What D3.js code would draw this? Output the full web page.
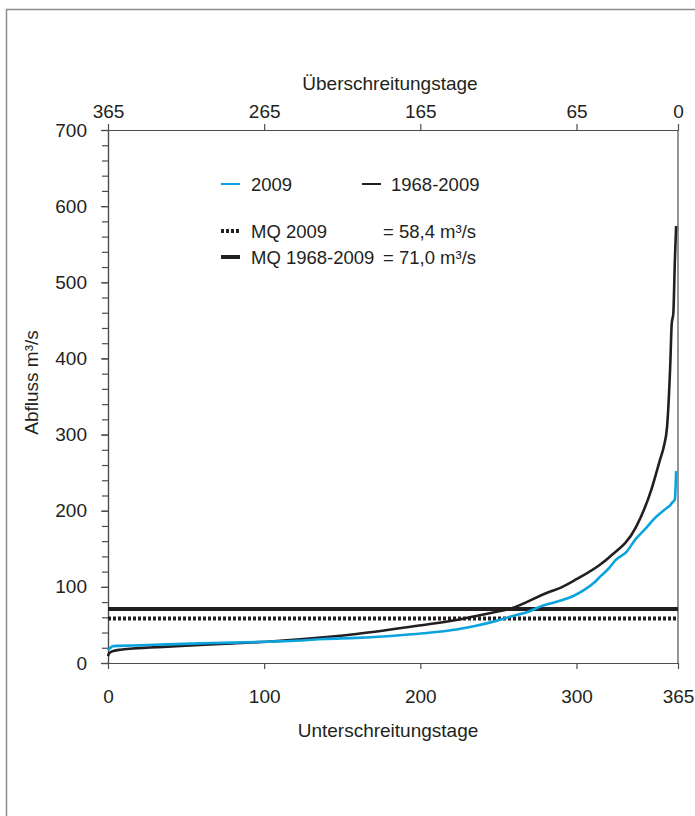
<!DOCTYPE html>
<html>
<head>
<meta charset="utf-8">
<script src="https://cdn.jsdelivr.net/npm/d3@7"></script>
<style>
  body { margin: 0; background: #fff; }
  svg text { font-family: "Liberation Sans", Arial, sans-serif; fill: #231f20; }
</style>
</head>
<body>
<svg id="chart" width="695" height="816"></svg>
<script>
// Unterschreitungstage (days) and discharge m³/s
const daysAll = [0, 0.5, 1.5, 4, 8, 16, 38, 59, 80, 102, 123, 159, 202, 223, 245, 258, 282, 290, 300, 315, 321, 338, 348, 353.5, 356, 358, 360, 361, 362, 363, 363.8];
const flowAll = [9, 12, 14, 16, 17.5, 19, 21.5, 23.6, 25.8, 28, 31, 38, 50, 56.5, 65.6, 71.6, 93, 99, 110, 129, 139, 178, 228, 267, 285, 310, 389, 446, 459, 529, 574];

const days2009 = [0, 1, 3, 6, 16, 38, 59, 80, 102, 123, 138, 159, 181, 202, 223, 235, 248, 258, 270, 278, 290, 298, 305, 311, 316, 321, 325, 332, 338, 344, 350, 355, 358, 360, 361, 362, 363, 363.8];
const flow2009 = [17, 19, 22, 22.5, 23, 24.5, 25.8, 26.7, 28, 29.5, 31.5, 33, 35.5, 39, 44, 48.5, 55, 61, 68, 75, 82, 88, 96, 105, 115, 125, 135, 146, 163, 176, 190, 199, 204, 207, 210, 212, 215, 252];

const mq2009 = 58.4;
const mqAll = 71.0;

const bottomTicks = [0, 100, 200, 300, 365];
const topTicks = [365, 265, 165, 65, 0];
const yMajor = [0, 100, 200, 300, 400, 500, 600, 700];

const margin = {top: 130, left: 108, right: 17, bottom: 153};
const svg = d3.select('#chart');
const W = +svg.attr('width'), H = +svg.attr('height');
const plotW = W - margin.left - margin.right;
const plotH = H - margin.top - margin.bottom;

// outer frame
svg.append('path')
    .attr('d', 'M6.5,' + (H + 2) + 'V9.5H' + (W + 2))
    .attr('fill', 'none')
    .attr('stroke', '#8c8c8c')
    .attr('stroke-width', 1.5);

const g = svg.append('g').attr('transform', 'translate(' + margin.left + ',' + margin.top + ')');

const x = d3.scaleLinear().domain([0, 365]).range([0, plotW]);
const xTop = d3.scaleLinear().domain([365, 0]).range([0, plotW]);
const y = d3.scaleLinear().domain([0, 700]).range([plotH, 0]);

function styleAxis(sel){
    sel.selectAll('path.domain').attr('stroke', '#4d4d4d').attr('stroke-width', 1.2);
    sel.selectAll('.tick line').attr('stroke', '#4d4d4d').attr('stroke-width', 1.2);
    sel.selectAll('text')
        .style('font-family', '"Liberation Sans", Arial, sans-serif')
        .style('font-size', '19px')
        .attr('fill', '#231f20');
}

// bottom axis
g.append('g')
    .attr('transform', 'translate(0,' + plotH + ')')
    .call(d3.axisBottom(x).tickValues(bottomTicks).tickSize(6).tickSizeOuter(0).tickPadding(21).tickFormat(d3.format('d')))
    .call(styleAxis);

// top axis
g.append('g')
    .call(d3.axisTop(xTop).tickValues(topTicks).tickSize(6).tickSizeOuter(0).tickPadding(6).tickFormat(d3.format('d')))
    .call(styleAxis);

// left axis: minor ticks every 20, labels every 100
g.append('g')
    .call(d3.axisLeft(y).tickValues(d3.range(0, 701, 20)).tickSize(6).tickSizeOuter(0).tickFormat(''))
    .call(styleAxis);
g.append('g')
    .call(d3.axisLeft(y).tickValues(yMajor).tickSize(7).tickSizeOuter(0).tickPadding(14).tickFormat(d3.format('d')))
    .call(styleAxis);

// right frame line
g.append('line')
    .attr('x1', plotW).attr('x2', plotW)
    .attr('y1', 0).attr('y2', plotH)
    .attr('stroke', '#4d4d4d').attr('stroke-width', 1.2);

// axis titles
svg.append('text')
    .attr('x', margin.left + plotW / 2 - 3).attr('y', 90)
    .attr('text-anchor', 'middle').style('font-size', '19px')
    .text('Überschreitungstage');
svg.append('text')
    .attr('x', margin.left + plotW / 2 - 5).attr('y', 737)
    .attr('text-anchor', 'middle').style('font-size', '19px')
    .text('Unterschreitungstage');
svg.append('text')
    .attr('transform', 'translate(38,' + (margin.top + plotH / 2 - 14) + ') rotate(-90)')
    .attr('text-anchor', 'middle').style('font-size', '19px')
    .text('Abfluss m³/s');

// mean discharge lines
g.append('line')
    .attr('x1', 0).attr('x2', plotW)
    .attr('y1', y(mqAll)).attr('y2', y(mqAll))
    .attr('stroke', '#231f20').attr('stroke-width', 4);
g.append('line')
    .attr('x1', 0).attr('x2', plotW)
    .attr('y1', y(mq2009)).attr('y2', y(mq2009))
    .attr('stroke', '#231f20').attr('stroke-width', 4)
    .attr('stroke-dasharray', '3,2');

const line = d3.line()
    .curve(d3.curveMonotoneX)
    .x(function(d){ return x(d[0]); })
    .y(function(d){ return y(d[1]); });

const ptsAll = d3.zip(daysAll, flowAll);
const pts2009 = d3.zip(days2009, flow2009);

g.append('path')
    .datum(ptsAll)
    .attr('d', line)
    .attr('fill', 'none')
    .attr('stroke', '#231f20')
    .attr('stroke-width', 2.6);
g.append('path')
    .datum(pts2009)
    .attr('d', line)
    .attr('fill', 'none')
    .attr('stroke', '#0aa3de')
    .attr('stroke-width', 2.6);

// legend
const leg = svg.append('g');
function legLine(x1, yy, color, width, dash){
    const l = leg.append('line')
        .attr('x1', x1).attr('x2', x1 + 19)
        .attr('y1', yy).attr('y2', yy)
        .attr('stroke', color).attr('stroke-width', width);
    if(dash) l.attr('stroke-dasharray', dash);
}
function legText(x1, yy, txt){
    leg.append('text').attr('x', x1).attr('y', yy).style('font-size', '18.5px').text(txt);
}
legLine(221, 184, '#0aa3de', 2);
legText(251, 191, '2009');
legLine(362, 184, '#231f20', 2);
legText(391, 191, '1968-2009');
legLine(221, 231, '#231f20', 4, '3,2');
legText(251, 238, 'MQ 2009');
legText(383, 238, '= 58,4 m³/s');
legLine(221, 257, '#231f20', 4);
legText(251, 264, 'MQ 1968-2009');
legText(383, 264, '= 71,0 m³/s');
</script>
</body>
</html>
